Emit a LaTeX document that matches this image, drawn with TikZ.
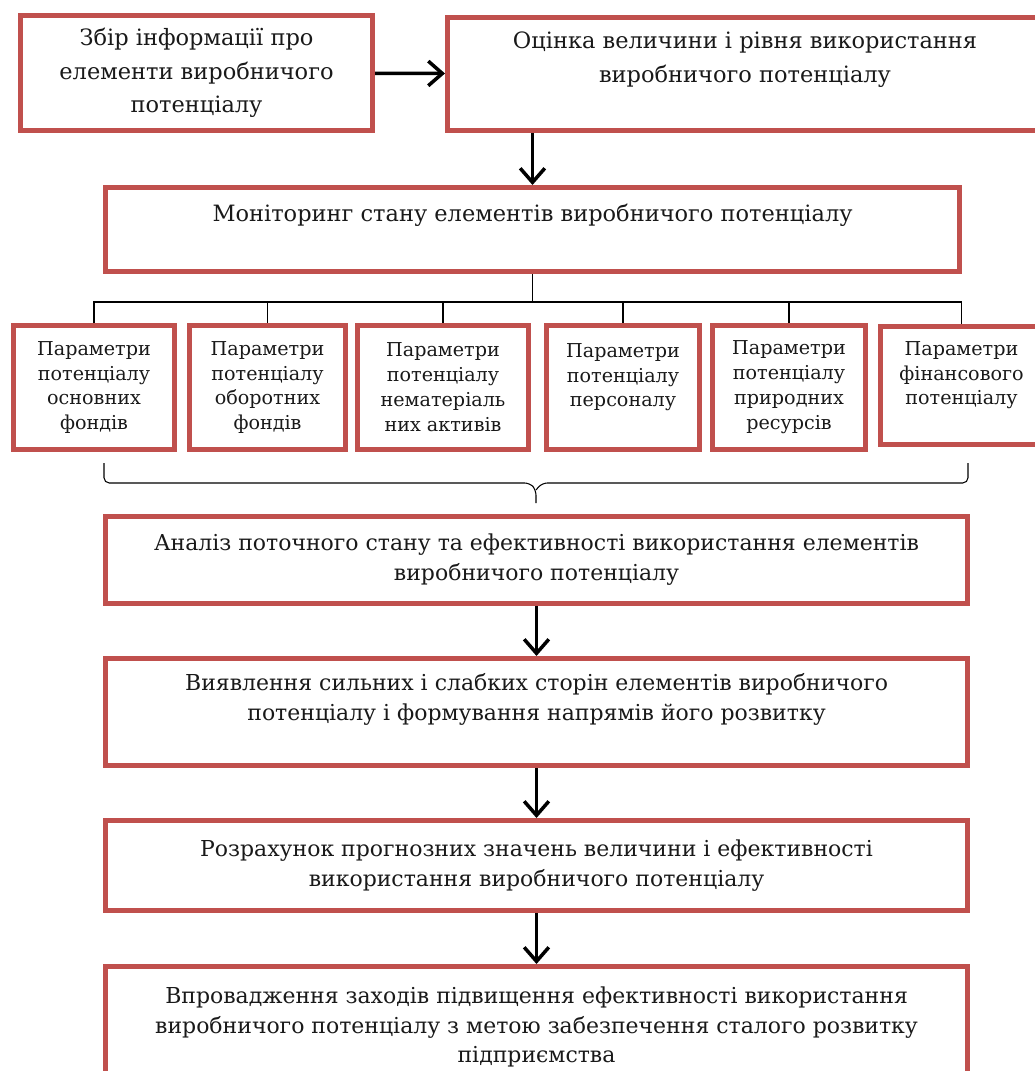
\documentclass[tikz,border=0pt]{standalone}
\usepackage{fontspec}
\setmainfont{DejaVu Serif}
\usetikzlibrary{arrows.meta}
\definecolor{boxred}{RGB}{192,80,77}
\begin{document}
\begin{tikzpicture}[
  box/.style={draw=boxred,line width=0.1cm,align=center,inner sep=0pt,text=black!90},
  big/.style={box,font=\fontsize{12.8}{19}\selectfont},
  wide/.style={box,minimum width=17.24cm,font=\fontsize{12.5}{17}\selectfont},
  prm/.style={box,minimum height=2.48cm,font=\fontsize{10.9}{14.2}\selectfont},
  arr/.style={->,>={Straight Barb[length=8pt,width=14pt]},line width=2pt},
  tree/.style={line width=0.6pt}]
\useasboundingbox (0,0) rectangle (20.70,-21.42);
\node[big,minimum width=7.04cm,minimum height=2.30cm] (zb) at (3.93,-1.46) {Збір інформації про\\ елементи виробничого\\ потенціалу};
\node[big,minimum width=11.90cm,minimum height=2.26cm] (oc) at (14.90,-1.48) {Оцінка величини і рівня використання\\ виробничого потенціалу\\ \mbox{}};
\node[big,minimum width=17.08cm,minimum height=1.68cm] (mon) at (10.65,-4.59) {Моніторинг стану елементів виробничого потенціалу\\ \mbox{}};
\node[prm,minimum width=3.22cm] (p1) at (1.88,-7.75) {Параметри\\ потенціалу\\ основних\\ фондів};
\node[prm,minimum width=3.12cm] (p2) at (5.35,-7.75) {Параметри\\ потенціалу\\ оборотних\\ фондів};
\node[prm,minimum width=3.42cm] (p3) at (8.86,-7.75) {Параметри\\ потенціалу\\ нематеріаль\\ них активів};
\node[prm,minimum width=3.06cm] (p4) at (12.46,-7.75) {Параметри\\ потенціалу\\ персоналу\\ \mbox{}};
\node[prm,minimum width=3.06cm] (p5) at (15.78,-7.75) {Параметри\\ потенціалу\\ природних\\ ресурсів};
\node[prm,minimum width=3.24cm,minimum height=2.36cm] (p6) at (19.23,-7.71) {Параметри\\ фінансового\\ потенціалу\\ \mbox{}};
\node[wide,minimum height=1.74cm] (an) at (10.73,-11.20) {Аналіз поточного стану та ефективності використання елементів\\ виробничого потенціалу};
\node[wide,minimum height=2.14cm] (vy) at (10.73,-14.24) {Виявлення сильних і слабких сторін елементів виробничого\\ потенціалу і формування напрямів його розвитку\\ \mbox{}};
\node[wide,minimum height=1.80cm] (roz) at (10.73,-17.31) {Розрахунок прогнозних значень величини і ефективності\\ використання виробничого потенціалу};
\node[wide,minimum height=2.42cm] (vpr) at (10.73,-20.54) {Впровадження заходів підвищення ефективності використання\\ виробничого потенціалу з метою забезпечення сталого розвитку\\ підприємства};
\coordinate (bus) at (10.65,-6.04);
\draw[arr] (zb) -- (oc);
\draw[arr] (mon.north |- oc.south) -- (mon.north);
\draw[tree] (mon.south) -- (bus);
\foreach \n in {p1,p2,p3,p4,p5,p6}
  \draw[tree] (bus) -| (\n.north);
\draw[tree,rounded corners=3pt] (2.08,-9.26) -- (2.08,-9.66) -- (10.60,-9.66) -- (10.72,-9.80) -- (10.72,-10.06);
\draw[tree,rounded corners=3pt] (19.36,-9.26) -- (19.36,-9.66) -- (10.84,-9.66) -- (10.72,-9.80);
\draw[arr] (an) -- (vy);
\draw[arr] (vy) -- (roz);
\draw[arr] (roz) -- (vpr);
\end{tikzpicture}
\end{document}
